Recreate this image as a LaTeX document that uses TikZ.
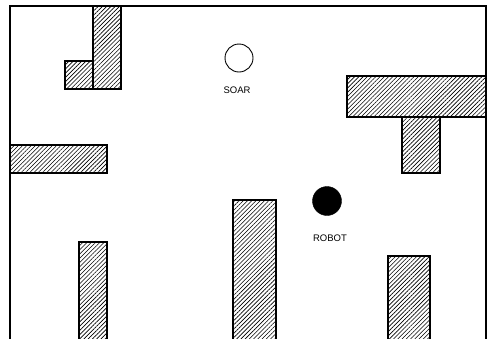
\documentclass[tikz,border=0pt]{standalone}
\usepackage{fontspec}
\setmainfont{Liberation Sans}
\usetikzlibrary{patterns.meta}
\tikzset{
  wall/.style={
    draw=black,line width=1.2pt,
    pattern={Lines[angle=45,distance=3pt,line width=0.6pt]}
  },
  frame/.style={draw=black,line width=1.1pt},
  soarnode/.style={
    circle,draw=black,line width=0.9pt,fill=white,
    minimum size=28pt,inner sep=0pt
  },
  robotnode/.style={
    circle,draw=black,fill=black,
    minimum size=29pt,inner sep=0pt
  },
  tag/.style={font=\fontsize{9.5}{11}\selectfont,inner sep=0pt},
}
\begin{document}
\begin{tikzpicture}[x=1pt,y=-1pt]
  \useasboundingbox (0,0) rectangle (489,338);
  \clip (0,0) rectangle (489,338);
  \fill[white] (0,0) rectangle (489,338);
  % outer walls, open at the bottom
  \draw[frame] (10,345) -- (10,6) -- (486,6) -- (486,345);
  % obstacles
  \draw[wall] (65,61) rectangle (93,89);
  \draw[wall] (93,6) rectangle (121,89);
  \draw[wall] (10,145) rectangle (107,173);
  \draw[wall] (347,76) rectangle (486,117);
  \draw[wall] (402,117) rectangle (440,173);
  \draw[wall] (79,242) rectangle (107,345);
  \draw[wall] (233,200) rectangle (276,345);
  \draw[wall] (388,256) rectangle (430,345);
  % agents
  \node[soarnode] (soar) at (239,58) {};
  \node[tag] (soarlabel) at (237,90) {SOAR};
  \node[robotnode] (robot) at (327,201) {};
  \node[tag] (robotlabel) at (330,238) {ROBOT};
\end{tikzpicture}
\end{document}
